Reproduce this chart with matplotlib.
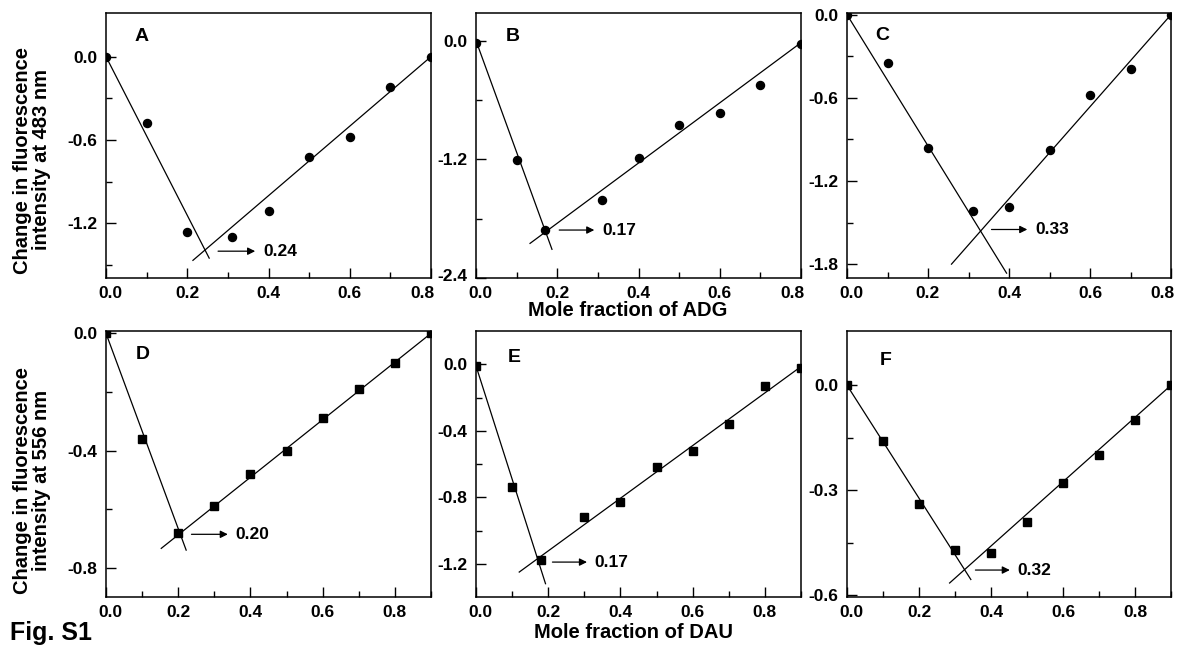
import numpy as np
import matplotlib
matplotlib.use('Agg')
import matplotlib.pyplot as plt
from matplotlib.ticker import FixedLocator, FormatStrFormatter
from matplotlib.transforms import ScaledTranslation

plt.rcParams['font.family'] = ['Liberation Sans', 'DejaVu Sans']
plt.rcParams['font.weight'] = 'bold'
plt.rcParams['axes.unicode_minus'] = False

# data, ADG (top row, circles)
x_A = [0.0, 0.1, 0.2, 0.31, 0.4, 0.5, 0.6, 0.7, 0.8]
y_A = [0.0, -0.48, -1.26, -1.30, -1.11, -0.72, -0.58, -0.22, 0.0]
x_B = [0.0, 0.1, 0.17, 0.31, 0.4, 0.5, 0.6, 0.7, 0.8]
y_B = [-0.02, -1.21, -1.91, -1.61, -1.19, -0.85, -0.73, -0.45, -0.03]
x_C = [0.0, 0.1, 0.2, 0.31, 0.4, 0.5, 0.6, 0.7, 0.8]
y_C = [0.0, -0.35, -0.96, -1.42, -1.39, -0.98, -0.58, -0.39, 0.0]

# data, DAU (bottom row, squares)
x_D = [0.0, 0.1, 0.2, 0.3, 0.4, 0.5, 0.6, 0.7, 0.8, 0.9]
y_D = [0.0, -0.36, -0.68, -0.59, -0.48, -0.40, -0.29, -0.19, -0.10, 0.0]
x_E = [0.0, 0.1, 0.18, 0.3, 0.4, 0.5, 0.6, 0.7, 0.8, 0.9]
y_E = [-0.01, -0.74, -1.18, -0.92, -0.83, -0.62, -0.52, -0.36, -0.13, -0.02]
x_F = [0.0, 0.1, 0.2, 0.3, 0.4, 0.5, 0.6, 0.7, 0.8, 0.9]
y_F = [0.0, -0.16, -0.34, -0.47, -0.48, -0.39, -0.28, -0.20, -0.10, 0.0]

# fitted lines: (x0, x1), (y0, y1)
fit1_A = [[0.0, 0.254], [0.0, -1.45]]
fit2_A = [[0.214, 0.8], [-1.466, 0.0]]
fit1_B = [[0.0, 0.187], [0.0, -2.11]]
fit2_B = [[0.133, 0.8], [-2.05, -0.02]]
fit1_C = [[0.0, 0.394], [0.0, -1.865]]
fit2_C = [[0.258, 0.8], [-1.80, 0.0]]
fit1_D = [[0.0, 0.222], [0.0, -0.74]]
fit2_D = [[0.153, 0.9], [-0.734, 0.0]]
fit1_E = [[0.0, 0.1925], [-0.01, -1.32]]
fit2_E = [[0.1197, 0.9], [-1.25, -0.014]]
fit1_F = [[0.0, 0.344], [0.0, -0.555]]
fit2_F = [[0.285, 0.9], [-0.565, 0.0]]

# stoichiometry arrows: x start, x end, y, label
arrow_A = [0.269, 0.374, -1.40, '0.24']
arrow_B = [0.198, 0.298, -1.915, '0.17']
arrow_C = [0.350, 0.452, -1.55, '0.33']
arrow_D = [0.229, 0.345, -0.686, '0.20']
arrow_E = [0.204, 0.315, -1.19, '0.17']
arrow_F = [0.349, 0.460, -0.528, '0.32']

# axes params
ylim_A, yt_A, ym_A = (-1.593, 0.314), [0.0, -0.6, -1.2], [-0.3, -0.9, -1.5]
ylim_B, yt_B, ym_B = (-2.4, 0.28), [0.0, -1.2, -2.4], [-0.6, -1.8]
ylim_C, yt_C, ym_C = (-1.9, 0.012), [0.0, -0.6, -1.2, -1.8], [-0.3, -0.9, -1.5]
ylim_D, yt_D, ym_D = (-0.9, 0.008), [0.0, -0.4, -0.8], [-0.2, -0.6]
ylim_E, yt_E, ym_E = (-1.4, 0.2), [0.0, -0.4, -0.8, -1.2], [-0.2, -0.6, -1.0]
ylim_F, yt_F, ym_F = (-0.605, 0.155), [0.0, -0.3, -0.6], [-0.15, -0.45]

W, H = 1177, 647
fig = plt.figure(figsize=(W / 100, H / 100), dpi=100)

cols = [(106, 431), (476, 801), (847, 1171)]
rows = [(13, 278), (331, 597)]


def make_ax(col, row):
    l, r = cols[col]
    t, b = rows[row]
    return fig.add_axes([l / W, 1 - b / H, (r - l) / W, (b - t) / H])


def shift_label(tick, dx, dy=0):
    # nudge one tick label by dx, dy pixels
    off = ScaledTranslation(dx / 100, dy / 100, fig.dpi_scale_trans)
    tick.label1.set_transform(tick.label1.get_transform() + off)


panels = [
    ('A', 0, 0, x_A, y_A, 'o', fit1_A, fit2_A, arrow_A, 0.8, ylim_A, yt_A, ym_A, (0.089, 0.91)),
    ('B', 1, 0, x_B, y_B, 'o', fit1_B, fit2_B, arrow_B, 0.8, ylim_B, yt_B, ym_B, (0.092, 0.91)),
    ('C', 2, 0, x_C, y_C, 'o', fit1_C, fit2_C, arrow_C, 0.8, ylim_C, yt_C, ym_C, (0.088, 0.914)),
    ('D', 0, 1, x_D, y_D, 's', fit1_D, fit2_D, arrow_D, 0.9, ylim_D, yt_D, ym_D, (0.093, 0.913)),
    ('E', 1, 1, x_E, y_E, 's', fit1_E, fit2_E, arrow_E, 0.9, ylim_E, yt_E, ym_E, (0.099, 0.90)),
    ('F', 2, 1, x_F, y_F, 's', fit1_F, fit2_F, arrow_F, 0.9, ylim_F, yt_F, ym_F, (0.10, 0.89)),
]

for name, c, r, x, y, mk, f1, f2, arr, xmax, ylim, yt, ym, lpos in panels:
    ax = make_ax(c, r)
    ax.plot(x, y, mk, color='black', ms=5.8 if mk == 'o' else 5.2, zorder=3)
    ax.plot(f1[0], f1[1], '-', color='black', lw=0.9)
    ax.plot(f2[0], f2[1], '-', color='black', lw=0.9)
    ax.annotate('', xy=(arr[1], arr[2]), xytext=(arr[0], arr[2]),
                arrowprops=dict(arrowstyle='-|>', lw=0.9, color='black', mutation_scale=11))
    ax.text(arr[1] + 0.013, arr[2], arr[3], fontsize=12.5, fontweight='bold', va='center', ha='left')
    ax.text(lpos[0], lpos[1], name, transform=ax.transAxes, fontsize=14, fontweight='bold',
            va='center', ha='left')

    ax.set_xlim(0, xmax)
    ax.set_ylim(ylim)
    ax.xaxis.set_major_locator(FixedLocator([0.0, 0.2, 0.4, 0.6, 0.8]))
    ax.xaxis.set_minor_locator(FixedLocator([0.1, 0.3, 0.5, 0.7, 0.9][:4 if xmax < 0.85 else 5]))
    ax.yaxis.set_major_locator(FixedLocator(yt))
    ax.yaxis.set_minor_locator(FixedLocator(ym))
    ax.xaxis.set_major_formatter(FormatStrFormatter('%.1f'))
    ax.yaxis.set_major_formatter(FormatStrFormatter('%.1f'))
    ax.tick_params(which='major', direction='in', length=7, width=1.0, labelsize=12.5, pad=6)
    ax.tick_params(which='minor', direction='in', length=4, width=1.0)
    for lab in ax.get_xticklabels() + ax.get_yticklabels():
        lab.set_fontweight('bold')
    for sp in ax.spines.values():
        sp.set_linewidth(1.1)

    # end labels sit inside the frame in the original
    xticks = ax.xaxis.get_major_ticks()
    shift_label(xticks[0], 4)
    if xmax < 0.85:
        shift_label(xticks[-1], -9)
    if name == 'B':
        shift_label(ax.yaxis.get_major_ticks()[-1], 0, 3)

# labels
fig.text(32 / W, 1 - 160 / H, 'Change in fluorescence\nintensity at 483 nm', rotation=90,
         ha='center', va='center', multialignment='center', fontsize=14.5, fontweight='bold',
         linespacing=1.05)
fig.text(32 / W, 1 - 480 / H, 'Change in fluorescence\nintensity at 556 nm', rotation=90,
         ha='center', va='center', multialignment='center', fontsize=14.5, fontweight='bold',
         linespacing=1.05)
fig.text(628 / W, 1 - 311 / H, 'Mole fraction of ADG', ha='center', va='center',
         fontsize=14.5, fontweight='bold')
fig.text(633 / W, 1 - 633 / H, 'Mole fraction of DAU', ha='center', va='center',
         fontsize=14.5, fontweight='bold')
fig.text(10 / W, 1 - 633 / H, 'Fig. S1', ha='left', va='center', fontsize=18, fontweight='bold')

fig.savefig('out.png', dpi=100)
